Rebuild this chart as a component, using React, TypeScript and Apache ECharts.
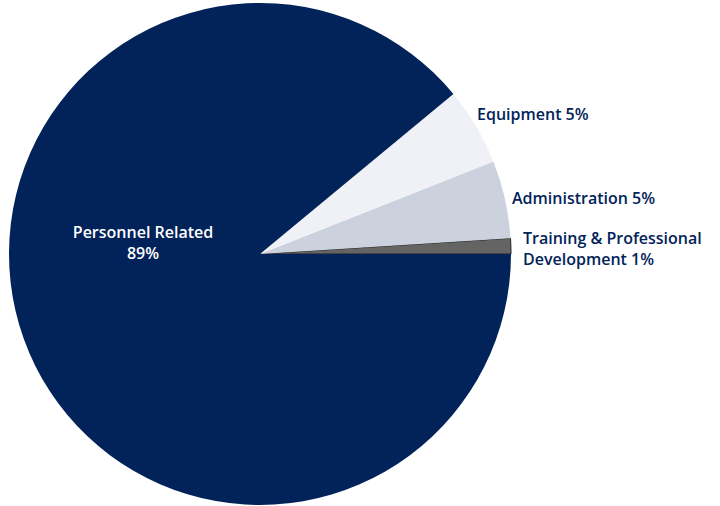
import React, { useEffect, useRef } from "react";
import * as echarts from "echarts";

const categories = ["Training & Professional\nDevelopment", "Administration", "Equipment", "Personnel Related"];
const values = [1, 5, 5, 89];
const colors = ["#646464", "#cbd2de", "#eff1f6", "#01235a"];
const labelPos: { x: number; y: number; align: string }[] = [
  { x: 523, y: 248, align: "left" },
  { x: 512, y: 198, align: "left" },
  { x: 477, y: 114, align: "left" },
  { x: 143, y: 242, align: "center" },
];

export default function App() {
  const ref = useRef<HTMLDivElement>(null);
  useEffect(() => {
    const chart = echarts.init(ref.current!, null, { renderer: "svg" });
    chart.setOption({
      animation: false,
      backgroundColor: "#ffffff",
      series: [
        {
          type: "pie",
          center: [260, 254],
          radius: 251,
          startAngle: 0,
          clockwise: false,
          avoidLabelOverlap: false,
          data: categories.map((name, i) => ({
            name,
            value: values[i],
            itemStyle: {
              color: colors[i],
              borderColor: i === 0 ? "#222222" : colors[i],
              borderWidth: i === 0 ? 1 : 0,
            },
            label:
              i === 3
                ? { position: "inside", formatter: "{b}\n{c}%", color: "#ffffff", align: "center" }
                : { position: "outside", formatter: "{b} {c}%", color: "#01235a", align: "left" },
          })),
          label: {
            show: true,
            fontFamily: "Open Sans",
            fontWeight: 600,
            fontSize: 16,
            lineHeight: 21,
            overflow: "none",
            width: 300,
          },
          labelLine: { show: false },
          labelLayout: (p: any) => {
            const l = labelPos[p.dataIndex];
            return { x: l.x, y: l.y, align: l.align, verticalAlign: "middle", hideOverlap: false };
          },
          emphasis: { disabled: true },
        },
      ],
    });
    return () => chart.dispose();
  }, []);
  return <div ref={ref} style={{ position: "fixed", left: 0, top: 0, width: 720, height: 506 }} />;
}
